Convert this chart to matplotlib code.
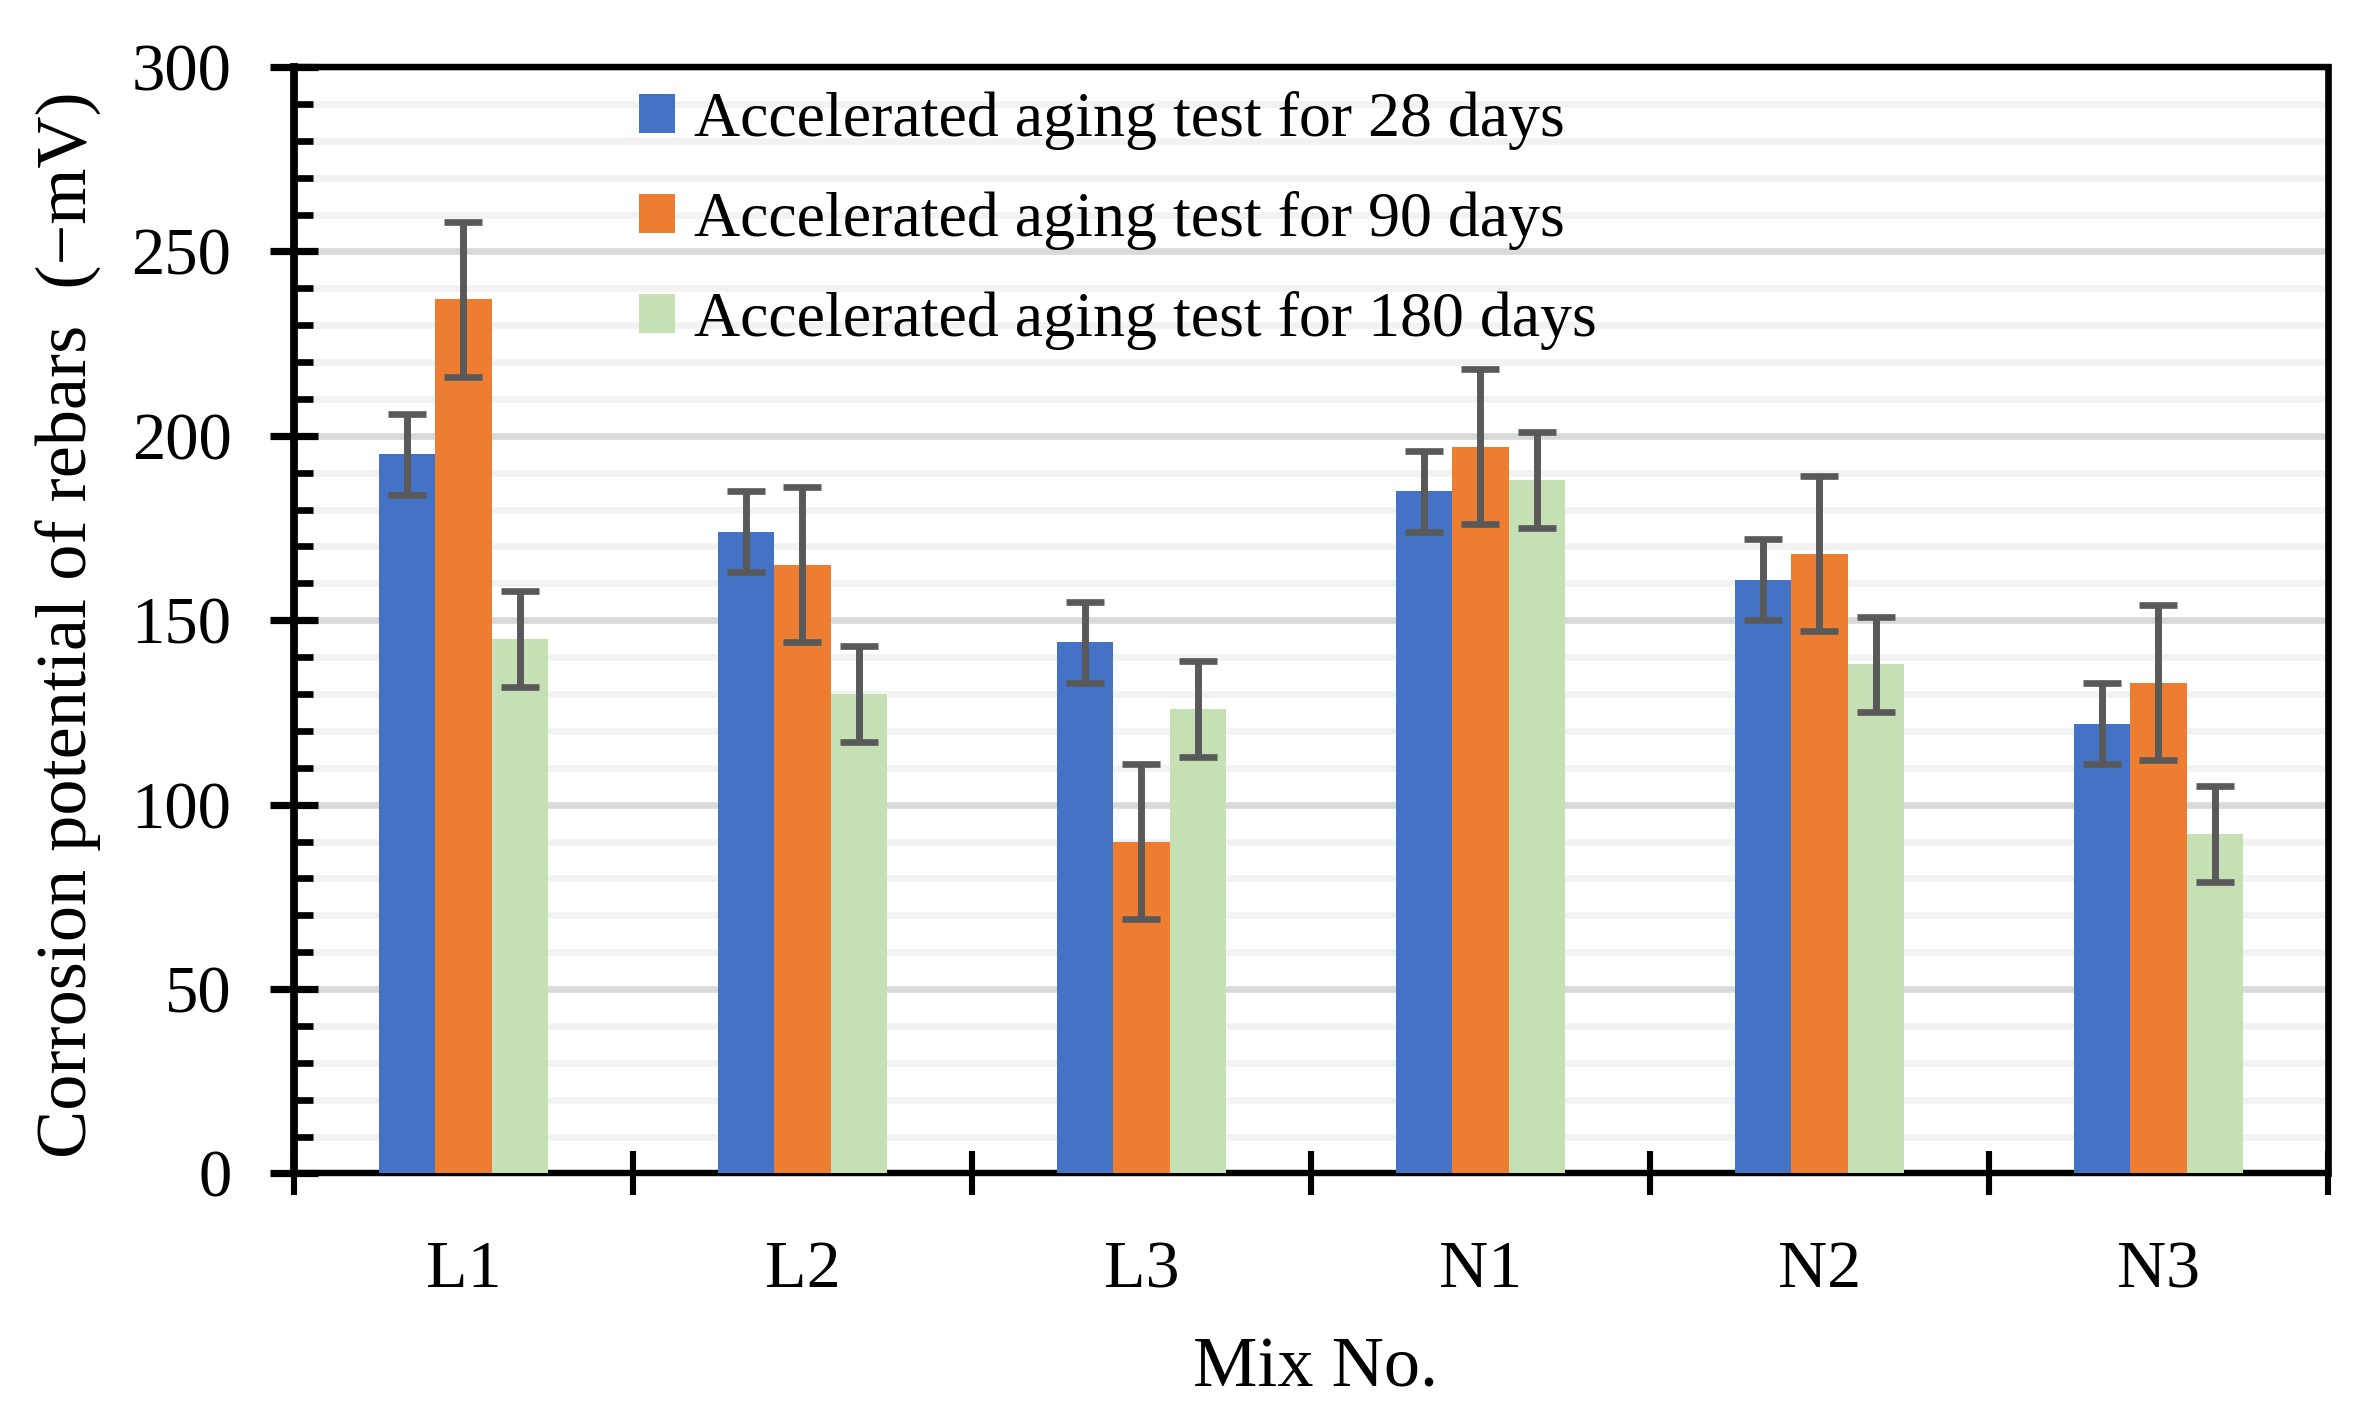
import numpy as np
import matplotlib.pyplot as plt
from matplotlib.ticker import MultipleLocator

plt.rcParams['font.family'] = ['Liberation Serif', 'DejaVu Serif']

mixes = ["L1", "L2", "L3", "N1", "N2", "N3"]
aging_28 = [195, 174, 144, 185, 161, 122]
aging_90 = [237, 165, 90, 197, 168, 133]
aging_180 = [145, 130, 126, 188, 138, 92]
err_28 = [11, 11, 11, 11, 11, 11]
err_90 = [21, 21, 21, 21, 21, 21]
err_180 = [13, 13, 13, 13, 13, 13]

series_labels = ["Accelerated aging test for 28 days",
                 "Accelerated aging test for 90 days",
                 "Accelerated aging test for 180 days"]
colors = ["#4472C4", "#ED7D31", "#C5E0B4"]

fig = plt.figure(figsize=(11.88, 7.13), dpi=200)
ax = fig.add_axes([0.1237, 0.1771, 0.8561, 0.7759])

x = np.arange(len(mixes))
w = 1 / 6
err_style = dict(ecolor="#595959", elinewidth=2.5, capsize=7, capthick=2.4)
for i, (vals, errs) in enumerate([(aging_28, err_28), (aging_90, err_90), (aging_180, err_180)]):
    ax.bar(x + (i - 1) * w, vals, w, color=colors[i], yerr=errs,
           error_kw=err_style, label=series_labels[i], zorder=3)

ax.set_xlim(-0.5, 5.5)
ax.set_ylim(0, 300)

# y axis ticks and grid
ax.yaxis.set_major_locator(MultipleLocator(50))
ax.yaxis.set_minor_locator(MultipleLocator(10))
ax.set_axisbelow(True)
ax.grid(which="major", axis="y", color="#D9D9D9", lw=2.4)
ax.grid(which="minor", axis="y", color="#F2F2F2", lw=2.4)
ax.tick_params(axis="y", which="major", direction="inout", length=17, width=2.6,
               labelsize=24, pad=14)
ax.tick_params(axis="y", which="minor", direction="in", length=6.8, width=2.4)

# x axis: boundary ticks + labels at centers
ax.set_xticks(np.arange(-0.5, 6, 1))
ax.set_xticklabels([])
ax.set_xticks(x, mixes, minor=True)
ax.tick_params(axis="x", which="major", direction="inout", length=16, width=2.2)
ax.tick_params(axis="x", which="minor", direction="in", length=5, width=2.0,
               labelsize=24.5, pad=24)

for side, lw in [("top", 2.3), ("bottom", 2.3), ("left", 2.8), ("right", 2.4)]:
    ax.spines[side].set_linewidth(lw)
    ax.spines[side].set_color("black")

fig.text(0.029, 0.562, "Corrosion potential of rebars  (\u2212mV)", rotation=90,
         ha="center", va="center", fontsize=26)
fig.text(0.5537, 0.040, "Mix No.", ha="center", va="center", fontsize=26)

ax.legend(loc="upper left", bbox_to_anchor=(0.269, 0.936),
          bbox_transform=fig.transFigure, frameon=False, fontsize=23,
          borderpad=0, borderaxespad=0, handlelength=0.56, handleheight=0.56,
          handletextpad=0.3, labelspacing=0.64)

fig.savefig("out.png", dpi=200)
